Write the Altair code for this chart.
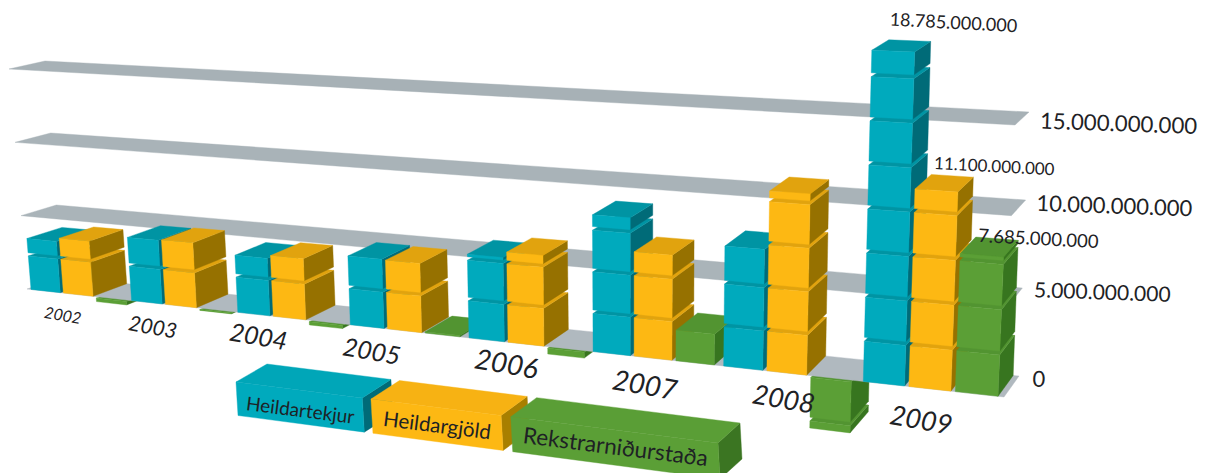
import altair as alt

# ---------- data (Icelandic krónur) ----------
YEARS = [2002, 2003, 2004, 2005, 2006, 2007, 2008, 2009]
TEKJUR = [3.47e9, 4.2e9, 3.7e9, 4.35e9, 5.15e9, 8.2e9, 7.0e9, 18.785e9]
GJOLD = [3.7e9, 4.25e9, 3.9e9, 4.3e9, 5.5e9, 6.2e9, 10.4e9, 11.1e9]
NIDURSTADA = [-0.23e9, -0.05e9, -0.2e9, 0.08e9, -0.35e9, 1.8e9, -2.9e9, 7.685e9]
SERIES = ["Heildartekjur", "Heildargjöld", "Rekstrarniðurstaða"]
TICKS = [0, 5e9, 10e9, 15e9]
LABELLED = [(7, 0, 18.785e9), (7, 1, 11.1e9), (7, 2, 7.685e9)]
UNIT = 2.5e9   # one cube
TICK_STEP = 5e9

# ---------- layout / style ----------
PAGE = 8
FRAME = {  # projection frame: (u, v, h) corners -> picture
    "fl0": (27, 289), "fl3": (9, 69), "bl0": (62, 277), "bl3": (45, 61),
    "fr0": (1004, 397), "fr3": (1015, 125), "br0": (1019, 376), "br3": (1029, 112),
}
LEG = {
    "fl0": (238, 415.5), "fl3": (236, 382), "bl0": (269, 398), "bl3": (267, 364),
    "fr0": (720, 479), "fr3": (718, 443), "br0": (742, 459), "br3": (740, 423),
}
K = 0.82
S0, PITCH, W = 0.01, 0.32, 0.29
YEAR_NUDGE = [0.03, 0.01, 0, 0, 0.005, 0.005, 0.005, 0.02]
GAP = 0.044
COL = [
    dict(front="#00AABD", top="#0094A3", side="#006B78"),
    dict(front="#FDB813", top="#E1A30E", side="#967100"),
    dict(front="#5B9F36", top="#529431", side="#37751F"),
]
COL_LEG = [
    dict(front="#00AABD", top="#00A6B8", side="#006B78"),
    dict(front="#FDB813", top="#F7B213", side="#A87F00"),
    dict(front="#5B9F36", top="#5A9E36", side="#3B7522"),
]
BAND = ["#B0B9BF", "#AAB4B9", "#A9B3B8", "#A7B1B6"]
LEG_SLOTS = [(0.0, 0.262), (0.28, 0.55), (0.57, 1.0)]
YEAR_SIZE = [16, 21, 25, 25, 28, 28, 27, 27]
YEAR_DX = [-19, -32, -35, -37, -24, -13, -8, -14]
YEAR_DY = [21, 22, 19, 21, 21, 28, 27, 32]
TICK_SIZE = [22, 21, 22, 22.2]
TICK_DX = [21, 19, 18, 18]
TICK_DY = [-7, -6, -4, 3]
VAL_OFF = [(52, -22), (50, -16), (49, -8)]
VAL_SIZE = [18, 17, 18.5]
LEG_SIZE = [19, 20.5, 22.5]
LEG_DY = [4, 2, 0]
FONT = "Lato"
INK = "#1e2225"


def mix(a, b, t):
    return a + (b - a) * t


def tri(frame, f, v, h):
    t = h / 3.0
    pts = []
    for i in range(2):
        fl = mix(frame["fl0"][i], frame["fl3"][i], t)
        fr = mix(frame["fr0"][i], frame["fr3"][i], t)
        bl = mix(frame["bl0"][i], frame["bl3"][i], t)
        br = mix(frame["br0"][i], frame["br3"][i], t)
        pts.append(mix(mix(fl, fr, f), mix(bl, br, f), v))
    return pts


def warp(u):
    return u * K / (1 - u + u * K)


def proj(u, v, h):
    return tri(FRAME, warp(u), v, h)


features = []


def poly(points, fill):
    ring = points + [points[0]]
    features.append({
        "type": "Feature",
        "properties": {"fill": fill},
        "geometry": {"type": "Polygon", "coordinates": [ring]},
    })


def box(P, u0, u1, h0, h1, c):
    poly([P(u1, 0, h0), P(u1, 1, h0), P(u1, 1, h1), P(u1, 0, h1)], c["side"])
    poly([P(u0, 0, h1), P(u1, 0, h1), P(u1, 1, h1), P(u0, 1, h1)], c["top"])
    poly([P(u0, 0, h0), P(u1, 0, h0), P(u1, 0, h1), P(u0, 0, h1)], c["front"])


def slot(y, s):
    a = (y + YEAR_NUDGE[y] + S0 + s * PITCH) / 8
    return a, a + W / 8


def stack_parts(value):
    unit = UNIT / TICK_STEP
    h = abs(value) / TICK_STEP
    parts, k = [], 0
    while k * unit < h - 1e-9:
        top = min((k + 1) * unit - GAP, h)
        parts.append((k * unit, top))
        k += 1
    return parts


rows = list(zip(TEKJUR, GJOLD, NIDURSTADA))

# negative bars hang below the floor and are painted first
for y, vals in enumerate(rows):
    for s, value in enumerate(vals):
        if value < 0:
            u0, u1 = slot(y, s)
            for a, b in reversed(stack_parts(value)):
                box(proj, u0, u1, -b - 0.02, -a - 0.02, COL[s])

# grid bands
for i, t in enumerate(TICKS):
    h = t / TICK_STEP
    poly([proj(0, 0, h), proj(1, 0, h), proj(1, 1, h), proj(0, 1, h)], BAND[i])

# positive bars
for y, vals in enumerate(rows):
    for s, value in enumerate(vals):
        if value > 0:
            u0, u1 = slot(y, s)
            for a, b in stack_parts(value):
                box(proj, u0, u1, a, b, COL[s])

# legend boxes
LP = lambda u, v, h: tri(LEG, u, v, h * 3)
for s, (a, b) in enumerate(LEG_SLOTS):
    box(LP, a, b, 0, 1, COL_LEG[s])

for f in features:
    ring = f["geometry"]["coordinates"][0]
    f["geometry"]["coordinates"] = [[[x - PAGE, yy - PAGE] for x, yy in ring]]


def dotted(n):
    return f"{int(round(n)):,}".replace(",", ".")


def label(text, pos, size, angle, dy=0, dx=0):
    return dict(t=text, x=pos[0] + dx - PAGE, y=pos[1] + dy - PAGE, s=size, a=angle)


year_rows = []
for y, yr in enumerate(YEARS):
    x0 = slot(y, 0)[0]
    p = proj(x0 + 0.5 / 8, 0, 0)
    year_rows.append(label(str(yr), p, YEAR_SIZE[y], 10, dy=YEAR_DY[y], dx=YEAR_DX[y]))

tick_rows = []
for i, t in enumerate(TICKS):
    p = proj(1, 0.5, t / TICK_STEP)
    tick_rows.append(label(dotted(t), p, TICK_SIZE[i], 2, dy=TICK_DY[i], dx=TICK_DX[i]))

val_rows = []
for i, (y, s, value) in enumerate(LABELLED):
    u0, u1 = slot(y, s)
    p = proj((u0 + u1) / 2, 0.5, value / TICK_STEP)
    val_rows.append(label(dotted(value), p, VAL_SIZE[i], 3, dx=VAL_OFF[i][0], dy=VAL_OFF[i][1]))

leg_rows = []
for s, (a, b) in enumerate(LEG_SLOTS):
    p = LP((a + b) / 2, 0, 0.5)
    leg_rows.append(label(SERIES[s], p, LEG_SIZE[s], 7.2, dy=LEG_DY[s]))

shapes = alt.Chart(alt.Data(values=features)).mark_geoshape(strokeWidth=0.4).encode(
    color=alt.Color("properties.fill:N", scale=None),
    stroke=alt.Stroke("properties.fill:N", scale=None),
).project(type="identity", scale=1, translate=[0, 0])


def text_layer(rows_, font, align="center", style="normal"):
    return alt.Chart(alt.Data(values=rows_)).mark_text(
        font=font, align=align, baseline="middle", fontStyle=style, color=INK
    ).encode(
        x=alt.X("x:Q", scale=None, axis=None),
        y=alt.Y("y:Q", scale=None, axis=None),
        text="t:N",
        size=alt.Size("s:Q", scale=None),
        angle=alt.Angle("a:Q", scale=None),
    )


chart = alt.layer(
    shapes,
    text_layer(year_rows, FONT, style="italic"),
    text_layer(tick_rows, FONT, align="left"),
    text_layer(val_rows, FONT),
    text_layer(leg_rows, FONT),
).properties(
    width=1191, height=465, padding=0,
    autosize=alt.AutoSizeParams(type="none"),
).configure_view(stroke=None)

chart.save("out.html", embed_options={"renderer": "svg", "actions": False})
